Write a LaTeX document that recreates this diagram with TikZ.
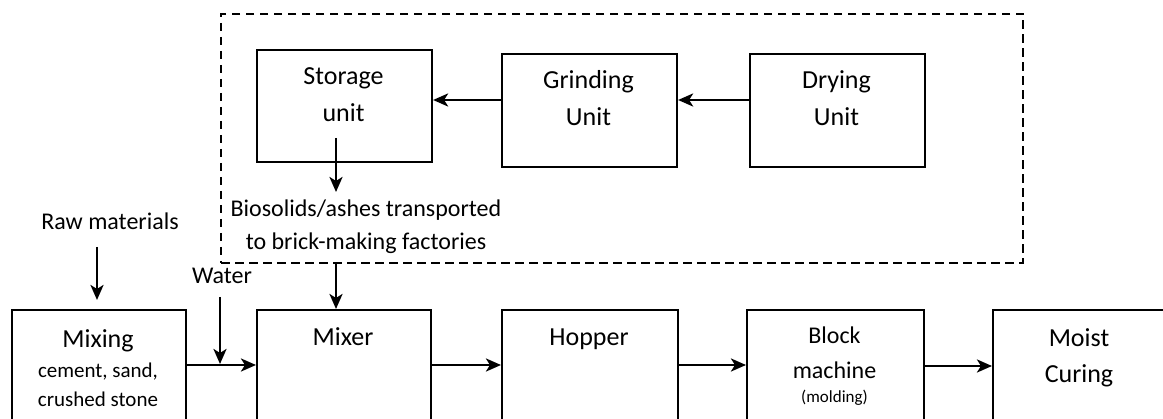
\documentclass[tikz,border=0pt]{standalone}
\usepackage{fontspec}
\setmainfont{Carlito}
\usetikzlibrary{arrows.meta}
\begin{document}
\begin{tikzpicture}[x=1pt,y=-1pt,
  box/.style={draw, line width=2.1pt, anchor=north west, inner sep=0pt},
  dashbox/.style={draw, dash pattern=on 8.5pt off 5.5pt, line width=2pt, anchor=north west, inner sep=0pt},
  big/.style={anchor=base, inner sep=0pt, font=\fontsize{26}{30}\selectfont},
  mid/.style={anchor=base, inner sep=0pt, font=\fontsize{24}{28}\selectfont},
  sub/.style={anchor=base, inner sep=0pt, font=\fontsize{21}{25}\selectfont},
  blk/.style={anchor=base, inner sep=0pt, font=\fontsize{24}{28}\selectfont},
  tiny/.style={anchor=base, inner sep=0pt, font=\fontsize{17}{20}\selectfont},
  arr/.style={line width=2.7pt, -{Stealth[length=15pt,width=13pt,inset=4pt]}}
]
\useasboundingbox (0,0) rectangle (1163,419);
\clip (0,0) rectangle (1163,419);

% dashed group
\node[dashbox, minimum width=802pt, minimum height=249pt] (group) at (220,13) {};

% upper boxes
\node[box, minimum width=175pt, minimum height=112pt] (storage) at (256,49) {};
\node[box, minimum width=175pt, minimum height=113pt] (grinding) at (501,53) {};
\node[box, minimum width=175pt, minimum height=113pt] (drying) at (749,53) {};

% lower boxes
\node[box, minimum width=174pt, minimum height=160pt] (mixing) at (11,309) {};
\node[box, minimum width=174pt, minimum height=160pt] (mixer) at (256,309) {};
\node[box, minimum width=176pt, minimum height=160pt] (hopper) at (501,309) {};
\node[box, minimum width=177pt, minimum height=160pt] (block) at (746,309) {};
\node[box, minimum width=174pt, minimum height=160pt] (moist) at (992,309) {};

% texts
\node[big] (tStorage) at (343.5,85) {Storage};
\node[big] (tStorage2) at (343.5,122) {unit};
\node[big] (tGrinding) at (588.5,89) {Grinding};
\node[big] (tGrinding2) at (588.5,126) {Unit};
\node[big] (tDrying) at (836.5,89) {Drying};
\node[big] (tDrying2) at (836.5,126) {Unit};

\node[mid] (bio1) at (366,217) {Biosolids/ashes transported};
\node[mid] (bio2) at (366,250) {to brick-making factories};

\node[mid] (raw) at (110,230) {Raw materials};
\node[mid] (water) at (222,284) {Water};

\node[big] (tMixing) at (98,348) {Mixing};
\node[sub] (tMixing2) at (98,378) {cement, sand,};
\node[sub] (tMixing3) at (98,407) {crushed stone};

\node[big] (tMixer) at (343,346) {Mixer};
\node[big] (tHopper) at (589,346) {Hopper};

\node[blk] (tBlock) at (834.5,344) {Block};
\node[blk] (tBlock2) at (834.5,379) {machine};
\node[tiny] (tBlock3) at (834.5,403) {(molding)};

\node[big] (tMoist) at (1079,347) {Moist};
\node[big] (tMoist2) at (1079,383) {Curing};

% connectors
\coordinate (rawTop) at (97,247);
\coordinate (rawTip) at (97,300);
\draw[arr] (rawTop) -- (rawTip);

\coordinate (waterTop) at (220,297);
\coordinate (waterTip) at (220,364);
\draw[arr] (waterTop) -- (waterTip);

\draw[arr] (mixing.east |- 0,365) -- (mixer.west |- 0,365);
\draw[arr] (mixer.east |- 0,365) -- (hopper.west |- 0,365);
\draw[arr] (hopper.east |- 0,365) -- (block.west |- 0,365);
\draw[arr] (block.east |- 0,366) -- (moist.west |- 0,366);

\draw[arr] (drying.west |- 0,100) -- (grinding.east |- 0,100);
\draw[arr] (grinding.west |- 0,100) -- (storage.east |- 0,100);

\coordinate (storOut) at (336,138);
\coordinate (storTip) at (336,192);
\draw[arr] (storOut) -- (storTip);

\draw[arr] (group.south -| 336,0) -- (mixer.north -| 336,0);
\end{tikzpicture}
\end{document}
